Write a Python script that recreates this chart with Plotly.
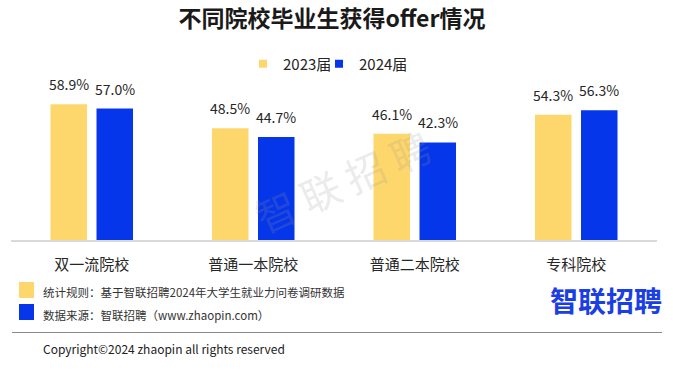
import plotly.graph_objects as go

# ---------------- data ----------------
categories = ["双一流院校", "普通一本院校", "普通二本院校", "专科院校"]
series_names = ["2023届", "2024届"]
values_2023 = [58.9, 48.5, 46.1, 54.3]
values_2024 = [57.0, 44.7, 42.3, 56.3]

title_text = "不同院校毕业生获得offer情况"
note_rule = "统计规则：基于智联招聘2024年大学生就业力问卷调研数据"
note_source = "数据来源：智联招聘（www.zhaopin.com）"
copyright_text = "Copyright©2024 zhaopin all rights reserved"
logo_text = "智联招聘"
watermark_text = "智 联 招 聘"

# ---------------- style ----------------
W, H = 673, 370
M_L, M_R, M_T, M_B = 11, 16, 78, 130
FONT = "Noto Sans CJK SC"
YELLOW = "#FED76C"
BLUE = "#0636E9"
TXT = "#262626"

PLOT_W = W - M_L - M_R
PLOT_H = H - M_T - M_B


def px_x(px):
    return (px - M_L) / PLOT_W


def px_y(py):
    return (H - M_B - py) / PLOT_H


series_values = [values_2023, values_2024]
series_colors = [YELLOW, BLUE]

fig = go.Figure()
for name, vals, col in zip(series_names, series_values, series_colors):
    fig.add_trace(go.Bar(
        x=categories, y=vals, name=name, marker_color=col,
        marker_line_width=0, showlegend=False, hoverinfo="skip",
    ))

# legend entries (small square symbols)
for i, (name, col) in enumerate(zip(series_names, series_colors)):
    fig.add_trace(go.Scatter(
        x=[None], y=[None], mode="markers", name=name,
        marker=dict(symbol="square", size=8, color=col),
        legend="legend" if i == 0 else "legend2",
    ))

annotations = []
# value labels
shift = [-23, 23]
for s, vals in enumerate(series_values):
    for c, v in zip(categories, vals):
        annotations.append(dict(
            x=c, y=v, xref="x", yref="y", text=f"{v:.1f}%",
            showarrow=False, xshift=shift[s], yshift=20, yanchor="middle",
            font=dict(family=FONT, size=14, color=TXT),
        ))

# footnotes
annotations += [
    dict(x=px_x(41), y=px_y(291.5), xref="paper", yref="paper", text=note_rule,
         showarrow=False, xanchor="left", yanchor="middle",
         font=dict(family=FONT, size=11.5, color="#333333")),
    dict(x=px_x(41), y=px_y(314.5), xref="paper", yref="paper", text=note_source,
         showarrow=False, xanchor="left", yanchor="middle",
         font=dict(family=FONT, size=11.5, color="#333333")),
    dict(x=px_x(41), y=px_y(348.5), xref="paper", yref="paper", text=copyright_text,
         showarrow=False, xanchor="left", yanchor="middle",
         font=dict(family=FONT, size=12, color="#222222")),
    dict(x=px_x(605.5), y=px_y(300), xref="paper", yref="paper", text=f"<b>{logo_text}</b>",
         showarrow=False, xanchor="center", yanchor="middle",
         font=dict(family=FONT, size=28, color="#1B3FE3")),
    dict(x=px_x(342), y=px_y(181), xref="paper", yref="paper", text=watermark_text,
         showarrow=False, xanchor="center", yanchor="middle", textangle=-24,
         font=dict(family=FONT, size=40, color="rgba(150,150,150,0.20)")),
]

shapes = [
    dict(type="rect", xref="paper", yref="paper", x0=px_x(19), x1=px_x(34),
         y0=px_y(298), y1=px_y(282), fillcolor=YELLOW, line_width=0),
    dict(type="rect", xref="paper", yref="paper", x0=px_x(19), x1=px_x(34),
         y0=px_y(320), y1=px_y(304), fillcolor=BLUE, line_width=0),
    dict(type="line", xref="paper", yref="paper", x0=px_x(12), x1=px_x(662),
         y0=px_y(332.5), y1=px_y(332.5), line=dict(color="#8a8a8a", width=1.2)),
]

fig.update_layout(
    width=W, height=H, autosize=False,
    margin=dict(l=M_L, r=M_R, t=M_T, b=M_B, pad=0),
    paper_bgcolor="white", plot_bgcolor="white",
    barmode="group", bargap=0.43, bargroupgap=0.207,
    font=dict(family=FONT, color=TXT),
    title=dict(text=title_text, x=332 / W, xanchor="center", xref="container",
               y=1 - 19 / H, yanchor="middle", yref="container",
               font=dict(family=FONT, size=23, color="#1a1a1a", weight="bold")),
    xaxis=dict(showline=True, linecolor="#d9d9d9", linewidth=1.5, ticks="",
               tickfont=dict(family=FONT, size=15, color=TXT),
               ticklabelstandoff=10, showgrid=False, zeroline=False, fixedrange=True),
    yaxis=dict(range=[0, PLOT_H / 2.306], visible=False, showgrid=False,
               zeroline=False, fixedrange=True),
    legend=dict(orientation="h", x=px_x(243), xanchor="left", y=px_y(64),
                yanchor="middle", font=dict(family=FONT, size=15, color=TXT),
                bgcolor="rgba(0,0,0,0)", itemwidth=30),
    legend2=dict(orientation="h", x=px_x(319), xanchor="left", y=px_y(64),
                 yanchor="middle", font=dict(family=FONT, size=15, color=TXT),
                 bgcolor="rgba(0,0,0,0)", itemwidth=30),
    annotations=annotations,
    shapes=shapes,
    hovermode=False,
)

fig.write_html(
    "out.html",
    config={"displayModeBar": False},
    post_script="document.body.style.margin='0';document.body.style.padding='0';",
)
